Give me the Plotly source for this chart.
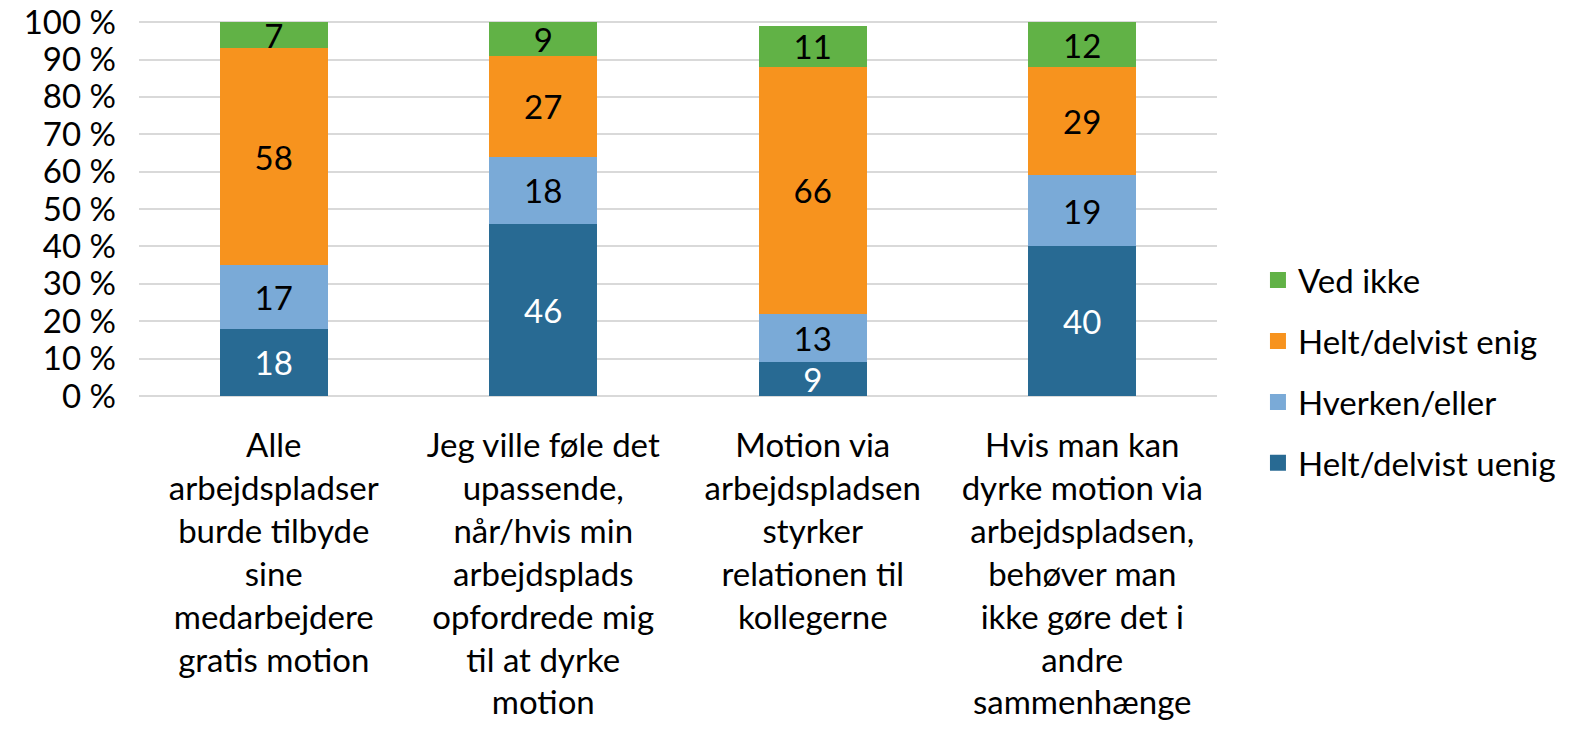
import plotly.graph_objects as go

categories = [
    "Alle<br>arbejdspladser<br>burde tilbyde<br>sine<br>medarbejdere<br>gratis motion",
    "Jeg ville føle det<br>upassende,<br>når/hvis min<br>arbejdsplads<br>opfordrede mig<br>til at dyrke<br>motion",
    "Motion via<br>arbejdspladsen<br>styrker<br>relationen til<br>kollegerne",
    "Hvis man kan<br>dyrke motion via<br>arbejdspladsen,<br>behøver man<br>ikke gøre det i<br>andre<br>sammenhænge",
]
series_names = ["Helt/delvist uenig", "Hverken/eller", "Helt/delvist enig", "Ved ikke"]
helt_uenig = [18, 46, 9, 40]
hverken = [17, 18, 13, 19]
helt_enig = [58, 27, 66, 29]
ved_ikke = [7, 9, 11, 12]
y_ticks = list(range(0, 101, 10))
y_ticklabels = [f"{v} %" for v in y_ticks]

colors = ["#286A93", "#7AAAD7", "#F7931E", "#61B246"]
text_colors = ["white", "black", "black", "black"]
legend_ranks = [4, 3, 2, 1]
FONT = "Lato, 'Open Sans', sans-serif"

fig = go.Figure()
for name, vals, col, tcol in zip(series_names, [helt_uenig, hverken, helt_enig, ved_ikke], colors, text_colors):
    fig.add_trace(go.Bar(
        x=categories, y=vals, name=name, showlegend=False,
        marker=dict(color=col, line=dict(width=0)),
        text=vals, texttemplate="%{text}", textposition="inside",
        insidetextanchor="middle", textangle=0, constraintext="none",
        textfont=dict(color=tcol, size=33, family=FONT),
        hoverinfo="skip",
    ))

# legend-only entries with larger square symbols
for name, col, rank in zip(series_names, colors, legend_ranks):
    fig.add_trace(go.Scatter(
        x=[None], y=[None], mode="markers", name=name, legendgroup=name,
        legendrank=rank, showlegend=True,
        marker=dict(symbol="square", size=16, color=col),
        hoverinfo="skip",
    ))

fig.update_layout(
    barmode="stack", bargap=0.6,
    width=1573, height=735,
    margin=dict(l=131, r=364, t=13, b=347, autoexpand=False),
    paper_bgcolor="white", plot_bgcolor="white",
    font=dict(family=FONT, size=33, color="black"),
    showlegend=True,
    legend=dict(
        x=1.038, xanchor="left", y=0.065, yanchor="middle",
        traceorder="grouped", tracegroupgap=15,
        font=dict(size=33, family=FONT), itemwidth=30,
    ),
    xaxis=dict(
        tickfont=dict(size=33, family=FONT), ticklabelstandoff=27,
        showgrid=False, showline=False, ticks="", automargin=False,
        ticklabeloverflow="allow",
    ),
    yaxis=dict(
        range=[0, 100.3], tickvals=y_ticks, ticktext=y_ticklabels,
        tickfont=dict(size=33, family=FONT), automargin=False,
        ticklabeloverflow="allow",
        showgrid=True, gridcolor="#D9D9D9", gridwidth=1.5,
        zeroline=True, zerolinecolor="#D9D9D9", zerolinewidth=1.5,
        ticklabelstandoff=22, showline=False,
    ),
)
fig.write_html("out.html")
